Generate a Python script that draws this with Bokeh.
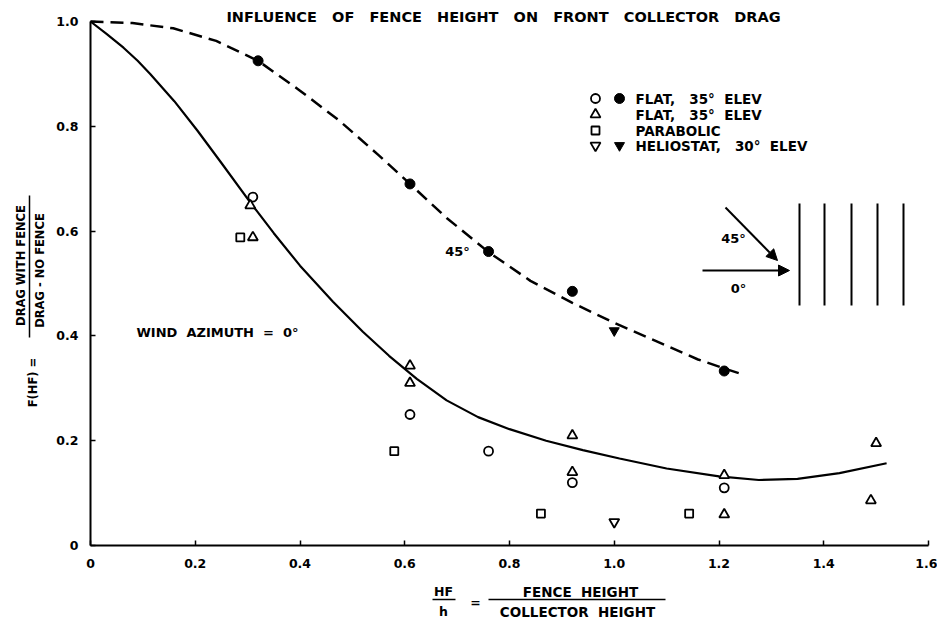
import math
from bokeh.plotting import figure
from bokeh.models import LinearAxis, FixedTicker, Label, Arrow, NormalHead, Range1d, Grid, PrintfTickFormatter
from bokeh.embed import file_html
from bokeh.resources import INLINE

# ---------------- data ----------------
x_ticks = [0, 0.2, 0.4, 0.6, 0.8, 1.0, 1.2, 1.4, 1.6]
y_ticks = [0, 0.2, 0.4, 0.6, 0.8, 1.0]

# FLAT, 35 deg ELEV  (open circles, wind azimuth 0)
flat_open_x = [0.31, 0.61, 0.76, 0.92, 1.21]
flat_open_y = [0.665, 0.25, 0.18, 0.12, 0.11]
# FLAT, 35 deg ELEV  (filled circles, wind azimuth 45)
flat_fill_x = [0.32, 0.61, 0.76, 0.92, 1.21]
flat_fill_y = [0.925, 0.69, 0.561, 0.485, 0.333]
# FLAT, 35 deg ELEV  (open triangles)
tri_x = [0.305, 0.31, 0.61, 0.61, 0.92, 0.92, 1.21, 1.21, 1.49, 1.50]
tri_y = [0.649, 0.588, 0.343, 0.31, 0.21, 0.14, 0.134, 0.059, 0.086, 0.195]
# PARABOLIC (open squares)
para_x = [0.286, 0.58, 0.86, 1.143]
para_y = [0.588, 0.18, 0.061, 0.061]
# HELIOSTAT, 30 deg ELEV
helio_open_x = [1.0]
helio_open_y = [0.045]
helio_fill_x = [1.0]
helio_fill_y = [0.41]

# fitted curves
curve0_x = [0, 0.03, 0.063, 0.09, 0.114, 0.16, 0.204, 0.25, 0.305, 0.35, 0.40, 0.463, 0.52,
            0.57, 0.623, 0.68, 0.74, 0.80, 0.87, 0.94, 1.01, 1.1, 1.2, 1.276, 1.35, 1.43, 1.52]
curve0_y = [1.0, 0.977, 0.95, 0.925, 0.90, 0.848, 0.792, 0.73, 0.655, 0.596, 0.534, 0.465, 0.408,
            0.362, 0.318, 0.277, 0.245, 0.222, 0.200, 0.182, 0.166, 0.147, 0.132, 0.125, 0.127,
            0.138, 0.157]
curve45_x = [0, 0.08, 0.158, 0.24, 0.32, 0.40, 0.476, 0.55, 0.61, 0.68, 0.76, 0.84, 0.92,
             1.0, 1.08, 1.16, 1.21, 1.25]
curve45_y = [1.0, 0.997, 0.987, 0.963, 0.925, 0.868, 0.81, 0.745, 0.69, 0.625, 0.56, 0.505,
             0.463, 0.425, 0.39, 0.355, 0.338, 0.325]

# ---------------- layout helpers ----------------
W, H = 937, 628
SX, SY = 523.75, 524.0
X0_PX, Y0_PX = 90, 545          # canvas position of data origin


def X(px):
    return (px - X0_PX) / SX


def Y(py):
    return (Y0_PX - py) / SY


xs = X(0)
xe = xs + W / SX
ye = Y(0)
ys = ye - H / SY

FONT = "DejaVu Sans"
NB = "\u00a0"

p = figure(width=W, height=H, x_range=Range1d(xs, xe), y_range=Range1d(ys, ye),
           output_backend="svg", toolbar_location=None, title=None,
           x_axis_location=None, y_axis_location=None, min_border=0,
           outline_line_color=None, background_fill_color="white")
for g in list(p.center):
    if isinstance(g, Grid):
        g.visible = False


def style_axis(ax):
    ax.axis_line_width = 2
    ax.axis_line_color = "black"
    ax.major_tick_in = 5
    ax.major_tick_out = 0
    ax.major_tick_line_width = 1.5
    ax.minor_tick_in = 0
    ax.minor_tick_out = 0
    ax.major_label_text_font = FONT
    ax.major_label_text_font_style = "bold"
    ax.major_label_text_font_size = "12.5px"
    ax.major_label_text_color = "black"
    ax.formatter = PrintfTickFormatter(format="%.1f")
    ax.major_label_overrides = {0: "0"}


xaxis = LinearAxis(fixed_location=0, bounds=(0, 1.6), ticker=FixedTicker(ticks=x_ticks))
style_axis(xaxis)
xaxis.major_label_standoff = 13
p.add_layout(xaxis, "below")

yaxis = LinearAxis(fixed_location=0, bounds=(0, 1.0), ticker=FixedTicker(ticks=y_ticks))
style_axis(yaxis)
yaxis.major_label_standoff = 12
p.add_layout(yaxis, "left")

# curves
p.line(curve0_x, curve0_y, line_color="black", line_width=2.2)
p.line(curve45_x, curve45_y, line_color="black", line_width=2.5, line_dash="13 7")

# markers
p.scatter(flat_open_x, flat_open_y, marker="circle", size=9, fill_color="white",
          line_color="black", line_width=1.8)
p.scatter(flat_fill_x, flat_fill_y, marker="circle", size=10, fill_color="black",
          line_color="black")
p.scatter(tri_x, tri_y, marker="triangle", size=10, fill_color="white",
          line_color="black", line_width=1.8)
p.scatter(para_x, para_y, marker="square", size=8, fill_color="white",
          line_color="black", line_width=1.8)
p.scatter(helio_open_x, helio_open_y, marker="inverted_triangle", size=10, fill_color="white",
          line_color="black", line_width=1.8)
p.scatter(helio_fill_x, helio_fill_y, marker="inverted_triangle", size=10, fill_color="black",
          line_color="black")


def label(text, px, py, size="12px", align="left", angle=0.0):
    p.add_layout(Label(x=X(px), y=Y(py), text=text, text_font=FONT, text_font_style="bold",
                       text_font_size=size, text_align=align, text_baseline="middle",
                       text_color="black", angle=angle))


def wide(s, n=2):
    return s.replace(" ", " " + NB * n)


# title
label(wide("INFLUENCE OF FENCE HEIGHT ON FRONT COLLECTOR DRAG"), 503, 16, "14.5px", "center")

# legend
leg_rows = [98, 114, 130, 145]
p.scatter([X(595)], [Y(leg_rows[0])], marker="circle", size=9, fill_color="white",
          line_color="black", line_width=1.8)
p.scatter([X(619)], [Y(leg_rows[0])], marker="circle", size=10, fill_color="black",
          line_color="black")
p.scatter([X(595)], [Y(leg_rows[1])], marker="triangle", size=10, fill_color="white",
          line_color="black", line_width=1.8)
p.scatter([X(595)], [Y(leg_rows[2])], marker="square", size=8, fill_color="white",
          line_color="black", line_width=1.8)
p.scatter([X(595)], [Y(leg_rows[3])], marker="inverted_triangle", size=10, fill_color="white",
          line_color="black", line_width=1.8)
p.scatter([X(619)], [Y(leg_rows[3])], marker="inverted_triangle", size=10, fill_color="black",
          line_color="black")
label("FLAT," + NB * 2 + " 35°" + NB + " ELEV", 635, leg_rows[0], "13.5px")
label("FLAT," + NB * 2 + " 35°" + NB + " ELEV", 635, leg_rows[1], "13.5px")
label("PARABOLIC", 635, leg_rows[2], "13.5px")
label("HELIOSTAT," + NB * 2 + " 30°" + NB + " ELEV", 635, leg_rows[3], "13.5px")

# annotations in plot
label("45°", 457, 251, "13px", "center")
label(wide("WIND AZIMUTH = 0°", 1), 136, 332, "13px", "left")

# inset diagram (wind directions and fence rows)
fence_px = [799, 824, 851, 877, 903]
p.segment(x0=[X(v) for v in fence_px], y0=[Y(203)] * 5, x1=[X(v) for v in fence_px],
          y1=[Y(305)] * 5, line_color="black", line_width=2)
p.add_layout(Arrow(end=NormalHead(size=11, fill_color="black", line_color="black"),
                   x_start=X(702), y_start=Y(270), x_end=X(789), y_end=Y(270),
                   line_color="black", line_width=2))
p.add_layout(Arrow(end=NormalHead(size=11, fill_color="black", line_color="black"),
                   x_start=X(725), y_start=Y(207), x_end=X(777), y_end=Y(260),
                   line_color="black", line_width=2))
label("45°", 733, 238, "13px", "center")
label("0°", 738, 288, "13px", "center")

# y axis label (fraction, rotated)
rot = math.pi / 2
label("DRAG WITH FENCE", 20, 265, "11.5px", "center", rot)
label("DRAG - NO FENCE", 39, 270, "11.5px", "center", rot)
p.segment(x0=[X(29)], y0=[Y(195)], x1=[X(29)], y1=[Y(337)], line_color="black", line_width=1.5)
label("F(HF) =", 32, 382, "11.5px", "center", rot)

# x axis label (fraction)
label("HF", 443, 591, "12.5px", "center")
label("h", 443, 611, "12.5px", "center")
p.segment(x0=[X(432)], y0=[Y(599)], x1=[X(455)], y1=[Y(599)], line_color="black", line_width=1.5)
label("=", 475, 602, "12.5px", "center")
label(wide("FENCE HEIGHT", 1), 580, 591, "13.5px", "center")
label(wide("COLLECTOR HEIGHT", 1), 577, 611, "13.5px", "center")
p.segment(x0=[X(488)], y0=[Y(599)], x1=[X(665)], y1=[Y(599)], line_color="black", line_width=1.5)

open("out.html", "w").write(file_html(p, INLINE))
